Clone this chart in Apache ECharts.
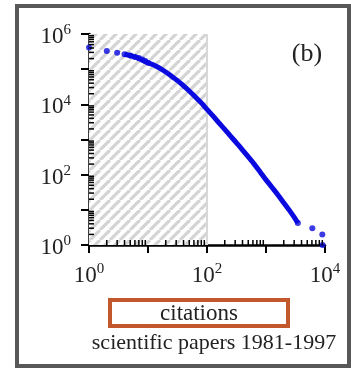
<!DOCTYPE html>
<html><head><meta charset="utf-8">
<script src="https://cdn.jsdelivr.net/npm/echarts@6/dist/echarts.min.js"></script>
<style>html,body{margin:0;padding:0;background:#fff}#c{width:351px;height:372px}</style>
</head><body><div id="c"></div>
<script>
// cumulative number of papers with >= x citations
var dotCitations = [1, 2, 3, 4, 5, 6, 7, 8, 9, 10];
var dotPapers = [415000, 330000, 292000, 266000, 243000, 223000, 207000, 189000, 172000, 152000];
var curveCitations = [4, 6, 10, 13, 16, 20, 25, 32, 40, 50, 63, 80, 100, 126, 158, 200, 251, 316, 398, 501, 631, 794, 1000, 1259, 1585, 1995, 2512, 3000, 3467];
var curvePapers = [266000, 223000, 152000, 128000, 105000, 83000, 63000, 46500, 33500, 24000, 16500, 11000, 7200, 4700, 3000, 1950, 1250, 800, 510, 320, 200, 120, 71, 44, 27, 16, 9.5, 6.2, 4.2];
var tailCitations = [3467, 6100, 9000, 9100];
var tailPapers = [4.2, 3, 2, 1];
var xDecades = [1, 10, 100, 1000];
var yDecades = [1, 10, 100, 1000, 10000, 100000];

var SERIF = '"Liberation Serif", "Times New Roman", "DejaVu Serif", serif';

var minorX = [], minorY = [];
xDecades.forEach(function(d){ for (var k = 2; k <= 9; k++) minorX.push(d * k); });
yDecades.forEach(function(d){ for (var k = 2; k <= 9; k++) minorY.push(d * k); });

function zip(a, b){ return a.map(function(v, i){ return [v, b[i]]; }); }

var cv = document.createElement('canvas');
var s = 10; cv.width = s; cv.height = s;
var ctx = cv.getContext('2d');
ctx.fillStyle = '#ffffff'; ctx.fillRect(0, 0, s, s);
ctx.strokeStyle = '#d4d4d4'; ctx.lineWidth = 3.2;
for (var k = -1; k <= 1; k++) { ctx.beginPath(); ctx.moveTo(k * s, s); ctx.lineTo(k * s + s, 0); ctx.stroke(); }

function expLabel(v, parity){
  var e = Math.round(Math.log10(v));
  if (e % 2 !== parity) return '';
  return '{a|10}{b|' + e + '}';
}
var rich = {
  a: {fontFamily: SERIF, fontSize: 23, color: '#222', lineHeight: 28},
  b: {fontFamily: SERIF, fontSize: 15, color: '#222', verticalAlign: 'top', lineHeight: 12}
};

var chart = echarts.init(document.getElementById('c'), null, {renderer: 'canvas'});
chart.setOption({
  animation: false,
  backgroundColor: '#fff',
  textStyle: {fontFamily: SERIF},
  grid: {left: 89, right: 26, top: 34, bottom: 127, containLabel: false},
  xAxis: {
    type: 'log', logBase: 10, min: 1, max: 10000, splitNumber: 4,
    axisLine: {lineStyle: {color: '#000', width: 2.5}},
    axisTick: {show: true, inside: false, length: 8, lineStyle: {color: '#000', width: 2}},
    minorTick: {show: false},
    splitLine: {show: false},
    axisLabel: {margin: 17, fontFamily: SERIF, formatter: function(v){ return expLabel(v, 0); }, rich: rich}
  },
  yAxis: {
    type: 'log', logBase: 10, min: 1, max: 1000000, splitNumber: 6,
    axisLine: {lineStyle: {color: '#000', width: 2.5}},
    axisTick: {show: true, inside: false, length: 8, lineStyle: {color: '#000', width: 2}},
    minorTick: {show: false},
    splitLine: {show: false},
    axisLabel: {margin: 18, padding: [6, 0, 0, 0], fontFamily: SERIF, formatter: function(v){ return expLabel(v, 0); }, rich: rich}
  },
  series: [
    {
      type: 'line', data: zip(curveCitations, curvePapers), smooth: 0.3, showSymbol: false,
      lineStyle: {color: '#0a0ae0', width: 5}, z: 5,
      markArea: {silent: true, itemStyle: {color: {image: cv, repeat: 'repeat'}},
        data: [[{coord: [1, 1]}, {coord: [100, 1000000]}]]},
      markLine: {silent: true, symbol: 'none', label: {show: false},
        lineStyle: {color: '#d8d8d8', width: 2, type: 'solid'},
        data: [[{coord: [100, 1]}, {coord: [100, 1000000]}]]}
    },
    {
      type: 'scatter', data: zip(dotCitations, dotPapers).concat(zip(tailCitations, tailPapers)),
      symbolSize: 6, itemStyle: {color: '#0a0ae0'}, z: 6
    },
    {
      type: 'custom', z: 7, silent: true,
      data: minorX.map(function(v){ return [v, 0]; }).concat(minorY.map(function(v){ return [0, v]; })),
      renderItem: function(params, api){
        var xv = api.value(0), yv = api.value(1);
        var p, shape;
        if (yv === 0) { p = api.coord([xv, 1]); shape = {x1: p[0], y1: p[1], x2: p[0], y2: p[1] - 5}; }
        else { p = api.coord([1, yv]); shape = {x1: p[0], y1: p[1], x2: p[0] + 5, y2: p[1]}; }
        return {type: 'line', shape: shape, style: {stroke: '#000', lineWidth: 1.5}};
      },
      clip: false
    }
  ],
  graphic: [
    {type: 'rect', shape: {x: 17, y: 6, width: 332, height: 360}, style: {fill: null, stroke: '#585858', lineWidth: 4}, z: 100},
    {type: 'text', x: 307, y: 54, style: {text: '(b)', font: '26px ' + SERIF, fill: '#222', align: 'center', verticalAlign: 'middle'}, z: 100},
    {type: 'rect', shape: {x: 110, y: 300, width: 178, height: 26}, style: {fill: null, stroke: '#c2582b', lineWidth: 4}, z: 100},
    {type: 'text', x: 199, y: 314, style: {text: 'citations', font: '23px ' + SERIF, fill: '#222', align: 'center', verticalAlign: 'middle'}, z: 100},
    {type: 'text', x: 214, y: 343, style: {text: 'scientific papers 1981-1997', font: '22px ' + SERIF, fill: '#222', align: 'center', verticalAlign: 'middle'}, z: 100}
  ]
});
</script></body></html>
